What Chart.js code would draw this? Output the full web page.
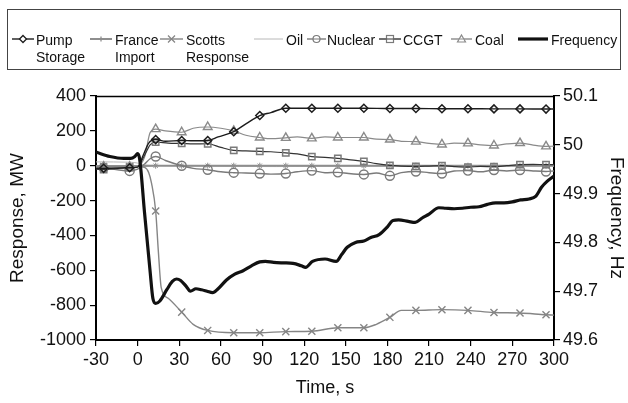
<!DOCTYPE html>
<html><head><meta charset="utf-8">
<script src="https://cdn.jsdelivr.net/npm/chart.js@4"></script>
<style>
html,body{margin:0;padding:0;background:#fff;}
#wrap{position:relative;width:628px;height:403px;overflow:hidden;font-family:"Liberation Sans",Arial,sans-serif;color:#111;}
#c{position:absolute;left:0;top:0;}
#legend{position:absolute;left:7px;top:9px;width:614px;height:61px;border:1px solid #444;box-sizing:border-box;}
.it{position:absolute;top:0;height:100%;}
.it svg{position:absolute;top:23px;}
.it .tx{position:absolute;top:22px;font-size:14px;line-height:17px;white-space:nowrap;}
</style>
</head><body>
<div id="wrap">
<canvas id="c" width="628" height="403"></canvas>
<div id="legend"></div>
</div>
<script>
// ---- data ----
const markerTimes = [-24.5,-5.75,13,31.75,50.5,69.25,88,106.75,125.5,144.25,163,181.75,200.5,219.25,238,256.75,275.5,294.25];

const pumpT = [-30,-24.5,-5.75,0,4,8,13,20,31.75,40,50.5,58,69.25,78,88,96,106.75,125.5,144.25,163,181.75,200.5,219.25,238,256.75,275.5,294.25,300];
const pumpV = [-15,-15,-12,-8,60,130,150,140,145,143,145,165,195,240,288,305,330,330,330,330,328,328,327,327,326,326,325,325];

const franceT = [-30,-24.5,-5.75,13,31.75,50.5,69.25,88,106.75,125.5,144.25,163,181.75,200.5,219.25,238,256.75,275.5,294.25,300];
const franceV = [-2,-2,-2,0,0,0,0,0,0,0,0,0,0,0,0,0,0,0,0,0];

const scottsT = [-30,-24.5,-5.75,0,5,8,10,13,15,17,22,31.75,40,50.5,69.25,88,106.75,125.5,144.25,163,172,181.75,190,200.5,219.25,238,256.75,275.5,294.25,300];
const scottsV = [-5,-5,-5,-5,-10,-40,-100,-260,-500,-700,-760,-840,-910,-945,-958,-958,-952,-950,-930,-930,-910,-870,-830,-830,-826,-830,-842,-845,-855,-857];

const oilT = [-30,-5,0,5,13,40,100,160,220,300];
const oilV = [22,20,15,5,2,-2,-5,-3,0,-2];

const nuclearT = [-30,-24.5,-5.75,0,5,9,13,20,31.75,40,50.5,60,69.25,78,88,96,106.75,115,125.5,135,144.25,152,163,172,181.75,190,200.5,210,219.25,228,238,247,256.75,266,275.5,285,294.25,300];
const nuclearV = [-10,-12,-30,-20,10,40,53,30,0,-15,-23,-35,-40,-42,-45,-48,-45,-35,-28,-40,-38,-45,-50,-42,-58,-40,-33,-40,-45,-30,-28,-35,-25,-30,-25,-30,-33,-30];

const ccgtT = [-30,-24.5,-5.75,0,5,9,13,22,31.75,40,50.5,60,69.25,78,88,96,106.75,115,125.5,135,144.25,152,163,172,181.75,190,200.5,210,219.25,228,238,247,256.75,266,275.5,285,294.25,300];
const ccgtV = [-20,-22,-10,-5,60,120,136,130,128,125,126,105,88,85,82,80,74,68,52,48,42,35,25,12,2,-2,-4,-2,0,-5,-8,-4,-6,0,6,8,6,6];

const coalT = [-30,-24.5,-5.75,0,5,9,13,20,31.75,40,50.5,60,69.25,78,88,96,106.75,115,125.5,135,144.25,163,172,181.75,190,200.5,210,219.25,228,238,247,256.75,266,275.5,285,294.25,300];
const coalV = [-5,-5,-5,-3,50,190,210,200,192,215,222,215,200,175,162,155,160,165,157,165,162,162,152,150,140,138,128,122,130,128,120,116,125,130,118,111,112];

const freqT = [-30,-20,-10,-5,-2,0,1.5,5,9,11,13,16,21,25,28,31,35,38,42,46,50,54,58,64,70,76,82,88,92,98,105,112,118,121,126,135,143,147,151,157,163,168,174,180,184,188,195,200,205,210,217,222,228,234,240,246,252,258,264,270,276,282,287,291,295,300];
const freqV = [49.985,49.976,49.972,49.972,49.976,49.982,49.97,49.86,49.74,49.685,49.675,49.68,49.703,49.72,49.725,49.722,49.71,49.7,49.705,49.703,49.7,49.697,49.705,49.723,49.735,49.742,49.752,49.76,49.761,49.759,49.758,49.757,49.752,49.749,49.761,49.766,49.761,49.775,49.79,49.8,49.803,49.81,49.816,49.832,49.845,49.846,49.843,49.841,49.85,49.858,49.871,49.87,49.869,49.87,49.872,49.873,49.878,49.881,49.881,49.883,49.887,49.889,49.895,49.913,49.925,49.936];

const xTicks = {min:-30, max:300, step:30};
const yTicks = {min:-1000, max:400, step:100, labelStep:200};
const y1Ticks = {min:49.6, max:50.1, step:0.05};

const seriesNames = ["Pump Storage","France Import","Scotts Response","Oil","Nuclear","CCGT","Coal","Frequency"];

// ---- build ----
function pts(t, v){ return t.map((x,i)=>({x:x, y:v[i]})); }
function isMark(x){ return markerTimes.indexOf(x) >= 0; }
function mr(r){ return ctx => (ctx.raw && isMark(ctx.raw.x)) ? r : 0; }
const clear = 'rgba(0,0,0,0)';
const base = {fill:false, cubicInterpolationMode:'monotone', pointBackgroundColor:clear, pointHoverRadius:0};

const datasets = [
  Object.assign({}, base, {label:seriesNames[7], data:pts(freqT,freqV), yAxisID:'y1', borderColor:'#111', borderWidth:3.2, pointRadius:0, order:0}),
  Object.assign({}, base, {label:seriesNames[0], data:pts(pumpT,pumpV), yAxisID:'y', borderColor:'#1c1c1c', borderWidth:1.4, pointStyle:'rectRot', pointRadius:mr(4), pointBorderColor:'#1c1c1c', pointBorderWidth:1.5, order:1}),
  Object.assign({}, base, {label:seriesNames[1], data:pts(franceT,franceV), yAxisID:'y', borderColor:'#8e8e8e', borderWidth:2, pointStyle:'star', pointRadius:mr(3), pointBorderColor:'#8e8e8e', pointBorderWidth:1, order:5}),
  Object.assign({}, base, {label:seriesNames[2], data:pts(scottsT,scottsV), yAxisID:'y', borderColor:'#858585', borderWidth:1.4, pointStyle:'crossRot', pointRadius:mr(5), pointBorderColor:'#858585', pointBorderWidth:1.4, order:2}),
  Object.assign({}, base, {label:seriesNames[3], data:pts(oilT,oilV), yAxisID:'y', borderColor:'#b8b8b8', borderWidth:1, pointRadius:0, order:7}),
  Object.assign({}, base, {label:seriesNames[4], data:pts(nuclearT,nuclearV), yAxisID:'y', borderColor:'#7a7a7a', borderWidth:1.4, pointStyle:'circle', pointRadius:mr(4.5), pointBorderColor:'#7a7a7a', pointBorderWidth:1.4, order:4}),
  Object.assign({}, base, {label:seriesNames[5], data:pts(ccgtT,ccgtV), yAxisID:'y', borderColor:'#333', borderWidth:1.2, pointStyle:'rect', pointRadius:mr(4.5), pointBorderColor:'#7a7a7a', pointBorderWidth:1.5, order:3}),
  Object.assign({}, base, {label:seriesNames[6], data:pts(coalT,coalV), yAxisID:'y', borderColor:'#8a8a8a', borderWidth:1.2, pointStyle:'triangle', pointRadius:mr(5), pointBorderColor:'#8a8a8a', pointBorderWidth:1.4, order:6})
];

const FONT = "'Liberation Sans', Arial, sans-serif";
const frame = {
  id:'frame',
  afterDraw(chart){
    const a = chart.chartArea, c = chart.ctx;
    c.save(); c.strokeStyle='#000'; c.lineWidth=1.5;
    c.beginPath(); c.moveTo(a.left, a.top+0.5); c.lineTo(a.right, a.top+0.5); c.stroke();
    c.restore();
  }
};
const gridCfg = {drawOnChartArea:false, drawTicks:true, tickLength:6, color:'#000', lineWidth:1.2};

new Chart(document.getElementById('c'), {
  type:'line',
  data:{datasets:datasets},
  plugins:[frame],
  options:{
    responsive:false, animation:false, events:[],
    layout:{padding:{top:96, left:0, right:0, bottom:0}},
    plugins:{legend:{display:false}, tooltip:{enabled:false}},
    scales:{
      x:{type:'linear', min:xTicks.min, max:xTicks.max,
         ticks:{stepSize:xTicks.step, color:'#111', font:{family:FONT, size:18}, padding:3, maxRotation:0},
         grid:gridCfg, border:{display:true, color:'#000', width:2},
         title:{display:true, text:'Time, s', color:'#111', font:{family:FONT, size:18}, padding:{top:0,bottom:4}},
         afterFit(s){ s.height = 63; }},
      y:{type:'linear', position:'left', min:yTicks.min, max:yTicks.max,
         ticks:{stepSize:yTicks.step, color:'#111', font:{family:FONT, size:18}, padding:4,
                callback:v => (v % yTicks.labelStep === 0) ? String(v) : ''},
         grid:gridCfg, border:{display:true, color:'#000', width:2},
         title:{display:true, text:'Response, MW', color:'#111', font:{family:FONT, size:19}, padding:{top:6,bottom:0}},
         afterFit(s){ s.width = 96; }},
      y1:{type:'linear', position:'right', min:y1Ticks.min, max:y1Ticks.max,
         ticks:{stepSize:y1Ticks.step, color:'#111', font:{family:FONT, size:18}, padding:3,
                callback:v => { const t = v*10; return Math.abs(t - Math.round(t)) < 1e-6 ? String(Number(v.toFixed(1))) : ''; }},
         grid:gridCfg, border:{display:true, color:'#000', width:2},
         title:{display:true, text:'Frequency, Hz', color:'#111', font:{family:FONT, size:19}, padding:{top:0,bottom:0}},
         afterFit(s){ s.width = 74; }}
    }
  }
});

// ---- HTML legend ----
const legendItems = [
  {name:seriesNames[0], lines:['Pump','Storage'], sx:4, sw:22, tx:28, col:'#1c1c1c', mk:'diamond'},
  {name:seriesNames[1], lines:['France','Import'], sx:82, sw:22, tx:107, col:'#8e8e8e', mk:'star', lw:2},
  {name:seriesNames[2], lines:['Scotts','Response'], sx:152, sw:23, tx:178, col:'#858585', mk:'x'},
  {name:seriesNames[3], lines:['Oil'], sx:246, sw:29, tx:278, col:'#b8b8b8', mk:null, lw:1},
  {name:seriesNames[4], lines:['Nuclear'], sx:299, sw:19, tx:319, col:'#7a7a7a', mk:'circle'},
  {name:seriesNames[5], lines:['CCGT'], sx:371, sw:22, tx:395, col:'#333', mk:'square', mc:'#7a7a7a'},
  {name:seriesNames[6], lines:['Coal'], sx:443, sw:21, tx:467, col:'#8a8a8a', mk:'triangle'},
  {name:seriesNames[7], lines:['Frequency'], sx:510, sw:30, tx:543, col:'#111', mk:null, lw:3.2}
];
const lg = document.getElementById('legend');
legendItems.forEach(it => {
  const d = document.createElement('div'); d.className='it';
  const w = it.sw, h = 12, cx = w/2, cy = 6, mc = it.mc || it.col;
  let m = '';
  if (it.mk==='diamond') m = `<polygon points="${cx},${cy-3.5} ${cx+3.5},${cy} ${cx},${cy+3.5} ${cx-3.5},${cy}" fill="#fff" stroke="${mc}" stroke-width="1.3"/>`;
  if (it.mk==='star') m = `<path d="M${cx-2.5} ${cy}H${cx+2.5}M${cx} ${cy-2.5}V${cy+2.5}" stroke="${mc}" stroke-width="1.3"/>`;
  if (it.mk==='x') m = `<path d="M${cx-3.5} ${cy-3.5}L${cx+3.5} ${cy+3.5}M${cx+3.5} ${cy-3.5}L${cx-3.5} ${cy+3.5}" stroke="${mc}" stroke-width="1.2"/>`;
  if (it.mk==='circle') m = `<circle cx="${cx}" cy="${cy}" r="3.5" fill="#fff" stroke="${mc}" stroke-width="1.2"/><line x1="${cx-3.5}" y1="${cy}" x2="${cx+3.5}" y2="${cy}" stroke="${mc}" stroke-width="1"/>`;
  if (it.mk==='square') m = `<rect x="${cx-3.5}" y="${cy-3.5}" width="7" height="7" fill="#fff" stroke="${mc}" stroke-width="1.2"/><line x1="${cx-3.5}" y1="${cy}" x2="${cx+3.5}" y2="${cy}" stroke="${it.col}" stroke-width="1"/>`;
  if (it.mk==='triangle') m = `<polygon points="${cx},${cy-4} ${cx+4},${cy+3} ${cx-4},${cy+3}" fill="#fff" stroke="${mc}" stroke-width="1.2"/><line x1="${cx-2}" y1="${cy}" x2="${cx+2}" y2="${cy}" stroke="${mc}" stroke-width="1"/>`;
  d.innerHTML = `<svg style="left:${it.sx}px" width="${w}" height="${h}"><line x1="0" y1="${cy}" x2="${w}" y2="${cy}" stroke="${it.col}" stroke-width="${it.lw||1.4}"/>${m}</svg>` +
    `<div class="tx" style="left:${it.tx}px">${it.lines.join('<br>')}</div>`;
  lg.appendChild(d);
});
</script>
</body></html>
